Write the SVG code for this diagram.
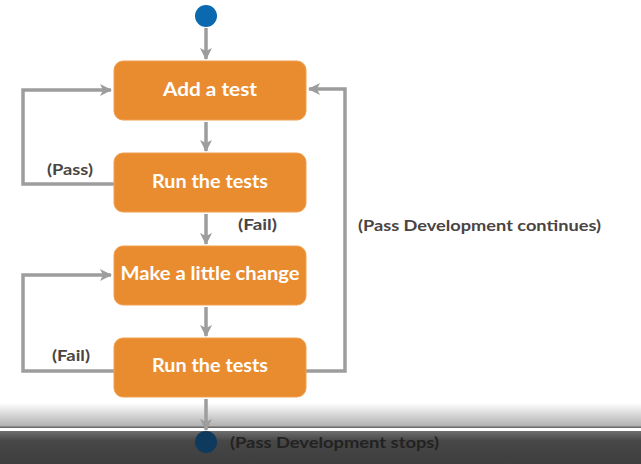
<svg xmlns="http://www.w3.org/2000/svg" width="641" height="464" viewBox="0 0 641 464">
<defs>
<style>
.box{fill:#e98c2f;stroke:#f0a050;stroke-width:1}
.bt{font-family:Lato,"Open Sans",sans-serif;font-weight:bold;font-size:19px;fill:#ffffff;text-anchor:middle}
.lb{font-family:Lato,"Open Sans",sans-serif;font-weight:bold;font-size:16px;fill:#4a4443}
.ln{fill:none;stroke:#9d9d9d;stroke-width:3.5}
</style>
<marker id="ah" viewBox="0 0 12 12" refX="11" refY="6" markerWidth="12" markerHeight="12" markerUnits="userSpaceOnUse" orient="auto">
<path d="M0,0 L12,6 L0,12 L3,6 z" fill="#9d9d9d"/>
</marker>
<linearGradient id="g1" x1="0" y1="0" x2="0" y2="1">
<stop offset="0" stop-color="#ffffff"/>
<stop offset="1" stop-color="#adadad"/>
</linearGradient>
<linearGradient id="g2" x1="0" y1="0" x2="0" y2="1">
<stop offset="0" stop-color="#6e6e6e"/>
<stop offset="0.3" stop-color="#474747"/>
<stop offset="1" stop-color="#3e3e3e"/>
</linearGradient>
</defs>
<rect x="0" y="0" width="641" height="464" fill="#ffffff"/>
<rect x="0" y="403" width="641" height="24" fill="url(#g1)"/>
<rect x="0" y="426.5" width="641" height="1.5" fill="#6a6a6a"/>
<rect x="0" y="431" width="641" height="33" fill="url(#g2)"/>
<g id="connectors">
<line class="ln" x1="206" y1="28" x2="206" y2="59" marker-end="url(#ah)"/>
<line class="ln" x1="206" y1="122" x2="206" y2="151" marker-end="url(#ah)"/>
<line class="ln" x1="206" y1="214" x2="206" y2="244" marker-end="url(#ah)"/>
<line class="ln" x1="206" y1="307" x2="206" y2="336" marker-end="url(#ah)"/>
<line class="ln" x1="206" y1="399" x2="206" y2="430" marker-end="url(#ah)"/>
<polyline class="ln" points="114,184 23,184 23,90 111,90" marker-end="url(#ah)"/>
<polyline class="ln" points="114,371 23,371 23,275 111,275" marker-end="url(#ah)"/>
<polyline class="ln" points="306,371 345,371 345,89 309,89" marker-end="url(#ah)"/>
<text class="lb" x="47" y="175" textLength="46" lengthAdjust="spacingAndGlyphs">(Pass)</text>
<text class="lb" x="238" y="230" textLength="39" lengthAdjust="spacingAndGlyphs">(Fail)</text>
<text class="lb" x="52" y="361" textLength="38" lengthAdjust="spacingAndGlyphs">(Fail)</text>
<text class="lb" x="358" y="231" textLength="243" lengthAdjust="spacingAndGlyphs">(Pass Development continues)</text>
</g>
<g id="start"><circle cx="206" cy="16" r="11" fill="#0b69b0"/></g>
<g id="n1"><rect class="box" x="114" y="61" width="192" height="59" rx="9"/><text class="bt" x="210" y="96" textLength="94" lengthAdjust="spacingAndGlyphs">Add a test</text></g>
<g id="n2"><rect class="box" x="114" y="153" width="192" height="59" rx="9"/><text class="bt" x="210" y="188" textLength="116" lengthAdjust="spacingAndGlyphs">Run the tests</text></g>
<g id="n3"><rect class="box" x="114" y="246" width="192" height="59" rx="9"/><text class="bt" x="210" y="280" textLength="179" lengthAdjust="spacingAndGlyphs">Make a little change</text></g>
<g id="n4"><rect class="box" x="114" y="338" width="192" height="59" rx="9"/><text class="bt" x="210" y="372" textLength="116" lengthAdjust="spacingAndGlyphs">Run the tests</text></g>
<g id="end"><circle cx="206" cy="442" r="11" fill="#0e3a5e"/><text class="lb" x="230" y="448" textLength="209" lengthAdjust="spacingAndGlyphs" style="fill:#222222">(Pass Development stops)</text></g>
</svg>
